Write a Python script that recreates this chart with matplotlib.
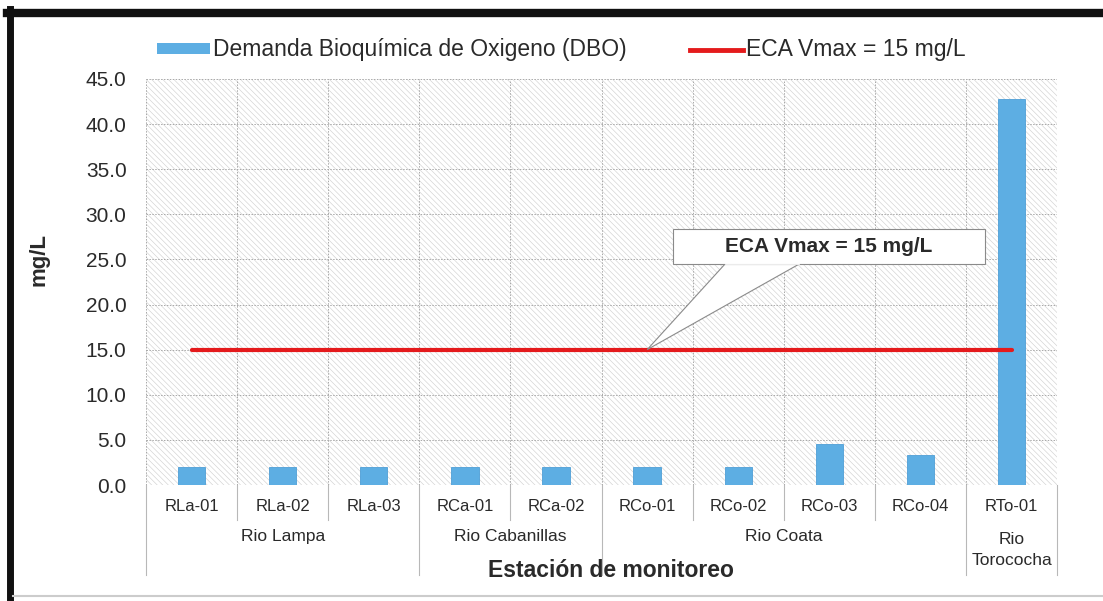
import numpy as np
import matplotlib
matplotlib.use("Agg")
import matplotlib.pyplot as plt
from matplotlib.patches import Patch, Rectangle, Polygon
from matplotlib.lines import Line2D

plt.rcParams['font.family'] = ['Liberation Sans', 'DejaVu Sans']
plt.rcParams['hatch.linewidth'] = 0.45
plt.rcParams['hatch.color'] = '#d2d2d2'

# data
stations = ["RLa-01", "RLa-02", "RLa-03", "RCa-01", "RCa-02",
            "RCo-01", "RCo-02", "RCo-03", "RCo-04", "RTo-01"]
dbo = [2.0, 2.0, 2.0, 2.0, 2.0, 2.0, 2.0, 4.5, 3.3, 42.8]
eca_vmax = 15
groups = ["Rio Lampa", "Rio Cabanillas", "Rio Coata", "Rio\nTorococha"]
group_sizes = [3, 2, 4, 1]

bar_color = "#5DAEE3"
line_color = "#E41A1C"
txt = "#2a2a2a"

fig = plt.figure(figsize=(11.03, 6.01), dpi=100)
ax = fig.add_axes([0.1324, 0.193, 0.826, 0.6756])

x = np.arange(len(stations))
ax.set_xlim(-0.5, len(stations) - 0.5)
ax.set_ylim(0, 45)

# hatched plot background
ax.add_patch(Rectangle((0, 0), 1, 1, transform=ax.transAxes, facecolor="white",
                       edgecolor="#d2d2d2", hatch="\\" * 6, lw=0, zorder=0))

# grid
for yv in np.arange(5, 46, 5):
    ax.axhline(yv, color="#a8a8a8", lw=0.7, ls=(0, (1.5, 1.5)), zorder=1)
for xv in np.arange(-0.5, len(stations) + 0.5, 1):
    ax.axvline(xv, color="#a8a8a8", lw=0.7, ls=(0, (1.5, 1.5)), zorder=1)

ax.bar(x, dbo, width=0.3, color=bar_color, edgecolor="#4f9fd6", lw=0.6, zorder=3)
ax.plot(x, [eca_vmax] * len(x), color=line_color, lw=3, solid_capstyle="round", zorder=4)

for s in ax.spines.values():
    s.set_visible(False)

ax.set_yticks(np.arange(0, 46, 5))
ax.set_yticklabels([f"{v:.1f}" for v in np.arange(0, 46, 5)], fontsize=15, color=txt)
ax.tick_params(axis="y", length=0, pad=14)
ax.set_xticks([])
ax.set_ylabel("mg/L", fontsize=16, fontweight="bold", color=txt)
ax.yaxis.set_label_coords(-0.106, 0.555)

# category labels below axis
trans = ax.get_xaxis_transform()
for i, st in enumerate(stations):
    ax.text(i, -0.052, st, transform=trans, ha="center", va="center",
            fontsize=12, color=txt)
edges = np.concatenate([[0], np.cumsum(group_sizes)]) - 0.5
for xv in np.arange(-0.5, len(stations) + 0.5, 1):
    long = np.isclose(edges, xv).any()
    ax.plot([xv, xv], [0, -0.222 if long else -0.086], transform=trans,
            color="#b8b8b8", lw=0.8, clip_on=False)
for g, a, b in zip(groups, edges[:-1], edges[1:]):
    yy = -0.126 if "\n" not in g else -0.16
    ax.text((a + b) / 2, yy, g, transform=trans, ha="center", va="center",
            fontsize=12.5, color=txt, linespacing=1.5)
ax.text(0.51, -0.21, "Estación de monitoreo", transform=ax.transAxes,
        ha="center", va="center", fontsize=16.5, fontweight="bold", color=txt)

# callout
bx0, bx1, by0, by1 = 5.28, 8.71, 24.5, 28.4
ax.add_patch(Polygon([(5.86, by0 + 0.05), (6.68, by0 + 0.05), (5.0, eca_vmax)],
                     closed=True, facecolor="white", edgecolor="#8a8a8a", lw=0.8, zorder=5))
ax.add_patch(Rectangle((bx0, by0), bx1 - bx0, by1 - by0, facecolor="white",
                       edgecolor="#8a8a8a", lw=0.8, zorder=5))
ax.plot([5.87, 6.67], [by0, by0], color="white", lw=1.2, zorder=6)
ax.text((bx0 + bx1) / 2, (by0 + by1) / 2, "ECA Vmax = 15 mg/L", ha="center", va="center",
        fontsize=15, fontweight="bold", color=txt, zorder=7)

# legend
handles = [Patch(facecolor=bar_color, edgecolor="none"),
           Line2D([0], [0], color=line_color, lw=3.5)]
labels = ["Demanda Bioquímica de Oxigeno (DBO)", "ECA Vmax = 15 mg/L"]
fig.legend(handles, labels, loc="center left", bbox_to_anchor=(0.132, 0.917), ncol=2,
           frameon=False, fontsize=16.5, handlelength=2.3, handleheight=0.35,
           handletextpad=0.15, columnspacing=2.75, labelcolor=txt, borderpad=0)

# figure border
fig.add_artist(Line2D([0.009, 0.009], [0, 0.985], transform=fig.transFigure, color="#111111", lw=5))
fig.add_artist(Line2D([0.006, 1.0], [0.978, 0.978], transform=fig.transFigure, color="#111111", lw=6))
fig.add_artist(Line2D([0.012, 1.0], [0.008, 0.008], transform=fig.transFigure, color="#cccccc", lw=1.5))

fig.savefig("out.png", dpi=100)
